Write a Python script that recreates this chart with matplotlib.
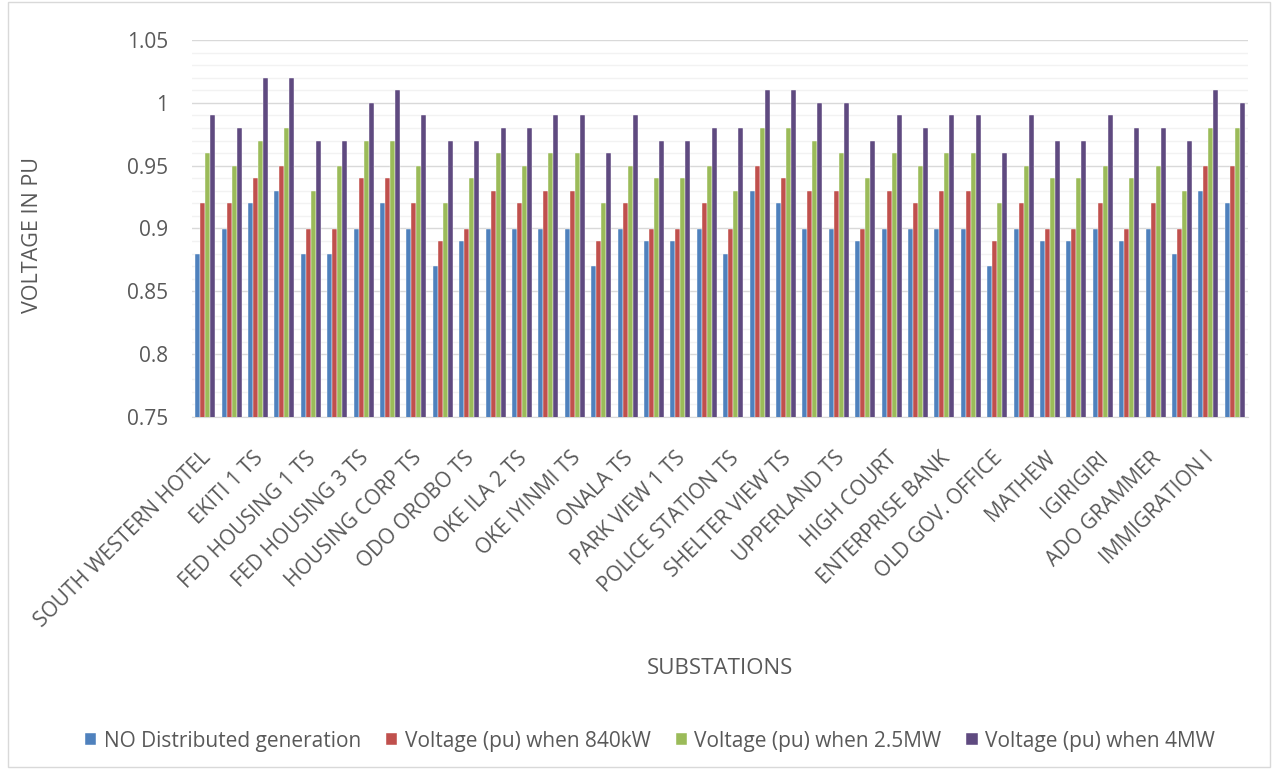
import matplotlib.pyplot as plt
import matplotlib.transforms as mtransforms
import numpy as np
from matplotlib.patches import Rectangle

plt.rcParams['font.family'] = ['Open Sans', 'DejaVu Sans']

# Substation names shown on the axis (every second substation is labelled)
tick_labels = [
    'SOUTH WESTERN HOTEL', 'EKITI 1 TS', 'FED HOUSING 1 TS', 'FED HOUSING 3 TS',
    'HOUSING CORP TS', 'ODO OROBO TS', 'OKE ILA 2 TS', 'OKE IYINMI TS',
    'ONALA TS', 'PARK VIEW 1 TS', 'POLICE STATION TS', 'SHELTER VIEW TS',
    'UPPERLAND TS', 'HIGH COURT', 'ENTERPRISE BANK', 'OLD GOV. OFFICE',
    'MATHEW', 'IGIRIGIRI', 'ADO GRAMMER', 'IMMIGRATION I'
]

# Bus voltages (pu) for the 40 substations
no_dg = [0.88, 0.90, 0.92, 0.93, 0.88, 0.88, 0.90, 0.92, 0.90, 0.87,
         0.89, 0.90, 0.90, 0.90, 0.90, 0.87, 0.90, 0.89, 0.89, 0.90,
         0.88, 0.93, 0.92, 0.90, 0.90, 0.89, 0.90, 0.90, 0.90, 0.90,
         0.87, 0.90, 0.89, 0.89, 0.90, 0.89, 0.90, 0.88, 0.93, 0.92]
dg_840kw = [0.92, 0.92, 0.94, 0.95, 0.90, 0.90, 0.94, 0.94, 0.92, 0.89,
            0.90, 0.93, 0.92, 0.93, 0.93, 0.89, 0.92, 0.90, 0.90, 0.92,
            0.90, 0.95, 0.94, 0.93, 0.93, 0.90, 0.93, 0.92, 0.93, 0.93,
            0.89, 0.92, 0.90, 0.90, 0.92, 0.90, 0.92, 0.90, 0.95, 0.95]
dg_2_5mw = [0.96, 0.95, 0.97, 0.98, 0.93, 0.95, 0.97, 0.97, 0.95, 0.92,
            0.94, 0.96, 0.95, 0.96, 0.96, 0.92, 0.95, 0.94, 0.94, 0.95,
            0.93, 0.98, 0.98, 0.97, 0.96, 0.94, 0.96, 0.95, 0.96, 0.96,
            0.92, 0.95, 0.94, 0.94, 0.95, 0.94, 0.95, 0.93, 0.98, 0.98]
dg_4mw = [0.99, 0.98, 1.02, 1.02, 0.97, 0.97, 1.00, 1.01, 0.99, 0.97,
          0.97, 0.98, 0.98, 0.99, 0.99, 0.96, 0.99, 0.97, 0.97, 0.98,
          0.98, 1.01, 1.01, 1.00, 1.00, 0.97, 0.99, 0.98, 0.99, 0.99,
          0.96, 0.99, 0.97, 0.97, 0.99, 0.98, 0.98, 0.97, 1.01, 1.00]

series = [no_dg, dg_840kw, dg_2_5mw, dg_4mw]
names = ['NO Distributed generation', 'Voltage (pu) when 840kW',
         'Voltage (pu) when 2.5MW', 'Voltage (pu) when 4MW']
colors = ['#4F81BD', '#C0504D', '#9BBB59', '#5F4A80']

text_col = '#595959'

fig = plt.figure(figsize=(12.77, 7.69), dpi=100)
ax = fig.add_axes([192 / 1277, 1 - 417 / 769, (1248 - 192) / 1277, (417 - 40) / 769])

x = np.arange(len(no_dg))
w = 0.19
handles = []
for k, (vals, name, c) in enumerate(zip(series, names, colors)):
    h = ax.bar(x + (k - 1.5) * w, vals, width=w, color=c, label=name,
               edgecolor='white', linewidth=0.3, zorder=3)
    handles.append(h)

ax.set_ylim(0.75, 1.05)
ax.set_xlim(-0.5, len(x) - 0.5)
ax.set_yticks(np.arange(0.75, 1.051, 0.05))
ax.set_yticklabels(['0.75', '0.8', '0.85', '0.9', '0.95', '1', '1.05'])
ax.set_yticks(np.arange(0.75, 1.051, 0.01), minor=True)
ax.grid(axis='y', which='major', color='#D9D9D9', linewidth=1.0, zorder=0)
ax.grid(axis='y', which='minor', color='#F2F2F2', linewidth=1.0, zorder=0)
ax.tick_params(axis='y', which='both', length=0, pad=17, labelsize=15, labelcolor=text_col)

ax.set_xticks(x[::2])
ax.set_xticklabels(tick_labels, rotation=45, ha='right', va='top',
                   rotation_mode='anchor', fontsize=15, color=text_col)
ax.tick_params(axis='x', length=0, pad=22)
# nudge the slanted labels slightly left
shift = mtransforms.ScaledTranslation(-5 / 100, 0, fig.dpi_scale_trans)
for lbl in ax.get_xticklabels():
    lbl.set_transform(lbl.get_transform() + shift)

for side in ['top', 'right', 'left']:
    ax.spines[side].set_visible(False)
ax.spines['bottom'].set_color('#D9D9D9')

fig.text(33 / 1277, 1 - 235 / 769, 'VOLTAGE IN PU', rotation=90, ha='center',
         va='center', fontsize=15.5, color=text_col)
fig.text(720 / 1277, 1 - 668 / 769, 'SUBSTATIONS', ha='center', va='center',
         fontsize=16, color=text_col)

fig.legend(handles=handles, loc='center', bbox_to_anchor=(650 / 1277, 1 - 741 / 769),
           ncol=4, frameon=False, fontsize=15, handlelength=0.55, handleheight=0.55,
           handletextpad=0.35, columnspacing=1.2, labelcolor=text_col)

# chart area frame
fig.patches.append(Rectangle((8 / 1277, 2 / 769), 1262 / 1277, 765 / 769,
                             transform=fig.transFigure, fill=False,
                             edgecolor='#D9D9D9', linewidth=1.0))

fig.savefig('out.png', dpi=100)
